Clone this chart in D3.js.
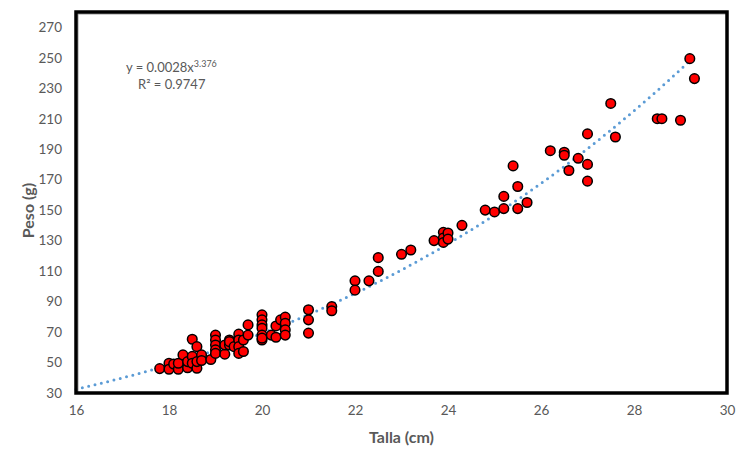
<!DOCTYPE html>
<html>
<head>
<meta charset="utf-8">
<script src="https://cdn.jsdelivr.net/npm/d3@7"></script>
<style>
  body { margin: 0; background: #fff; }
  text { font-family: Lato, "Open Sans", sans-serif; fill: #595959; }
</style>
</head>
<body>
<div id="chart"></div>
<script>
// talla (cm) and peso (g)
let talla = [17.8, 18.0, 18.0, 18.1, 18.2, 18.2, 18.3, 18.4, 18.4, 18.5, 18.5, 18.5, 18.6, 18.6, 18.6,
    18.7, 18.7, 18.9, 19.0, 19.0, 19.0, 19.0, 19.0, 19.2, 19.2, 19.3, 19.3, 19.3, 19.4,
    19.5, 19.5, 19.5, 19.5, 19.6, 19.6, 19.7, 19.7, 20.0, 20.0, 20.0, 20.0, 20.0, 20.0, 20.0,
    20.2, 20.3, 20.3, 20.4, 20.5, 20.5, 20.5, 20.5, 21.0, 21.0, 21.0, 21.5, 21.5,
    22.0, 22.0, 22.3, 22.5, 22.5, 23.0, 23.2, 23.7, 23.9, 23.9, 23.9, 24.0, 24.0, 24.3,
    24.8, 25.0, 25.2, 25.2, 25.4, 25.5, 25.5, 25.7, 26.2, 26.5, 26.5, 26.6, 26.8, 27.0, 27.0, 27.0,
    27.5, 27.6, 28.5, 28.6, 29.0, 29.2, 29.3];
let peso = [46, 49.5, 45.6, 49, 45.6, 49.5, 55, 46.6, 50.6, 65.3, 54, 49.5, 60.4, 46.2, 50.6,
    55, 51.3, 52, 68, 64.8, 61.5, 58.3, 56, 55.5, 61.5, 64.8, 61.5, 63.7, 60.4,
    68.6, 64.8, 60.4, 56, 57.2, 64.8, 74.7, 68, 81.3, 78, 74.7, 72.5, 68, 64.8, 66,
    68, 66.6, 74, 78, 79.8, 75.8, 71.4, 68, 84.6, 78, 69.3, 86.7, 84,
    103.6, 97.5, 103.6, 118.8, 109.8, 121, 123.8, 130, 135.4, 131.7, 128.8, 135, 131, 140,
    150, 148.8, 151, 159, 179, 165.5, 151, 155, 189, 188, 186, 176, 184, 200, 180, 169,
    220, 198, 210, 210, 209, 249.4, 236.3];

// power trendline  y = a * x^b
let trendA = 0.0028;
let trendB = 3.376;
let trendRange = [16, 29.2];

let xTicks = [16, 18, 20, 22, 24, 26, 28, 30];
let yTicks = [30, 50, 70, 90, 110, 130, 150, 170, 190, 210, 230, 250, 270];

const width = 738, height = 450;
const plotLeft = 76, plotRight = 727, plotTop = 12, plotBottom = 393;

let svg = d3.select('#chart').append('svg')
    .attr('width', width)
    .attr('height', height);

let x = d3.scaleLinear().domain([16, 30]).range([plotLeft, plotRight]);
let y = d3.scaleLinear().domain([30, 280]).range([plotBottom, plotTop]);

// tick labels
svg.append('g')
    .attr('transform', 'translate(0,' + plotBottom + ')')
    .call(d3.axisBottom(x).tickValues(xTicks).tickSize(0).tickPadding(12))
    .call(g => g.select('.domain').remove())
    .selectAll('text')
    .style('font-size', '13.5px')
    .attr('fill', '#595959');

svg.append('g')
    .attr('transform', 'translate(' + plotLeft + ',0)')
    .call(d3.axisLeft(y).tickValues(yTicks).tickSize(0).tickPadding(14))
    .call(g => g.select('.domain').remove())
    .selectAll('text')
    .style('font-size', '13.5px')
    .attr('fill', '#595959');

// trend line
let trend = d3.range(trendRange[0], trendRange[1] + 0.001, 0.1)
    .map(t => [t, trendA * Math.pow(t, trendB)]);

svg.append('path')
    .datum(trend)
    .attr('fill', 'none')
    .attr('stroke', '#5B9BD5')
    .attr('stroke-width', 3)
    .attr('stroke-linecap', 'round')
    .attr('stroke-dasharray', '0 6.5')
    .attr('d', d3.line().x(d => x(d[0])).y(d => y(d[1])));

// points
svg.append('g').selectAll('circle')
    .data(talla.map((t, i) => [t, peso[i]]))
    .enter().append('circle')
    .attr('cx', d => x(d[0]))
    .attr('cy', d => y(d[1]))
    .attr('r', 4.8)
    .attr('fill', '#FF0000')
    .attr('stroke', '#000')
    .attr('stroke-width', 1.5);

// plot frame
svg.append('rect')
    .attr('x', plotLeft + 2)
    .attr('y', plotTop + 2)
    .attr('width', plotRight - plotLeft - 2)
    .attr('height', plotBottom - plotTop - 2)
    .attr('fill', 'none')
    .attr('stroke', '#999')
    .attr('stroke-width', 1);
svg.append('rect')
    .attr('x', plotLeft)
    .attr('y', plotTop)
    .attr('width', plotRight - plotLeft)
    .attr('height', plotBottom - plotTop)
    .attr('fill', 'none')
    .attr('stroke', '#000')
    .attr('stroke-width', 3.5);

// equation
let eq = svg.append('text')
    .attr('x', 126)
    .attr('y', 72)
    .style('font-size', '13px');
eq.append('tspan').text('y = 0.0028x');
eq.append('tspan').attr('dy', -5).style('font-size', '9px').text(trendB.toFixed(3));

svg.append('text')
    .attr('x', 138)
    .attr('y', 89)
    .style('font-size', '13px')
    .text('R² = 0.9747');

// axis titles
svg.append('text')
    .attr('x', (plotLeft + plotRight) / 2)
    .attr('y', 443)
    .attr('text-anchor', 'middle')
    .style('font-size', '16px')
    .style('font-weight', 'bold')
    .text('Talla (cm)');

svg.append('text')
    .attr('transform', 'translate(34,' + ((plotTop + plotBottom) / 2 + 8) + ') rotate(-90)')
    .attr('text-anchor', 'middle')
    .style('font-size', '16px')
    .style('font-weight', 'bold')
    .text('Peso (g)');
</script>
</body>
</html>
